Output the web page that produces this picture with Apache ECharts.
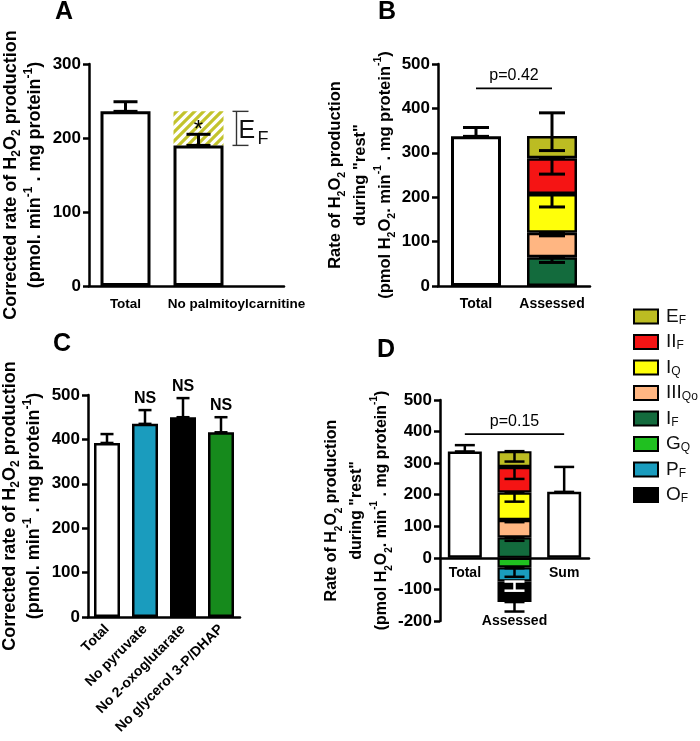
<!DOCTYPE html>
<html><head><meta charset="utf-8">
<script src="https://cdn.jsdelivr.net/npm/echarts@6/dist/echarts.min.js"></script>
<style>html,body{margin:0;padding:0;background:#fff}#c{width:700px;height:741px}</style>
</head><body><div id="c"></div>
<script>
// ---------------- data ----------------
// Panel A
const catsA = ['Total', 'No palmitoylcarnitine'];
const meanA = [236, 190];
const semA = [13, 15];
const efA = [null, 46];           // E_F component (hatched)
// Panel B / D shared "Assessed" components
const segNames = ['IF', 'IIIQo', 'IQ', 'IIF', 'EF', 'GQ', 'PF', 'OF'];
const segValues = [65, 55, 87, 81, 50, -30, -45, -65];
const legendOrder = ['EF', 'IIF', 'IQ', 'IIIQo', 'IF', 'GQ', 'PF', 'OF'];
const legendMain = ['E', 'II', 'I', 'III', 'I', 'G', 'P', 'O'];
const legendSub = ['F', 'F', 'Q', 'Qo', 'F', 'Q', 'F', 'F'];
// Panel B
const catsB = ['Total', 'Assessed'];
const totalB = [337, null];
const totalSemB = [20, null];
const errLowB = [53, 113, 178, 252, 305];
const errHighB = [65, 120, 207, 288, 390];
const pTextB = 'p=0.42';
const pLevelB = 445;
// Panel C
const catsC = ['Total', 'No pyruvate', 'No 2-oxoglutarate', 'No glycerol 3-P/DHAP'];
const meanC = [392, 435, 450, 416];
const semC = [20, 31, 43, 34];
const nsC = ['', 'NS', 'NS', 'NS'];
// Panel D
const catsD = ['Total', 'Assessed', 'Sum'];
const meanD = [337, null, 209];
const semD = [20, null, 79];
const errLowD = [54, 113, 178, 250, 305, null, -60, -104];
const errHighD = [65, 120, 207, 288, 338, null, -33, -75];
const ofOuterErrD = [-170, -140];
const pTextD = 'p=0.15';
const pLevelD = 392;

// ---------------- styles ----------------
const FF = '"Liberation Sans", Arial, sans-serif';
const segColors = {EF:'#bcbc22', IIF:'#f51414', IQ:'#ffff0a', IIIQo:'#ffb682', IF:'#136b3d', GQ:'#20c020', PF:'#1a9cbe', OF:'#000000'};
const colorsC = ['#ffffff', '#1a9cbe', '#000000', '#168a1c'];

function hatchPattern() {
  const cv = document.createElement('canvas');
  cv.width = 9; cv.height = 9;
  const g = cv.getContext('2d');
  g.fillStyle = '#fff'; g.fillRect(0, 0, 9, 9);
  g.strokeStyle = '#c3c32c'; g.lineWidth = 3.2;
  g.beginPath();
  g.moveTo(-2, 11); g.lineTo(11, -2);
  g.moveTo(-2, 2); g.lineTo(2, -2);
  g.moveTo(7, 11); g.lineTo(11, 7);
  g.stroke();
  return {image: cv, repeat: 'repeat'};
}

const axisLineStyle = {lineStyle: {color: '#000', width: 2.5}};
const tickStyle = {length: 6, lineStyle: {color: '#000', width: 2.5}};
const yLabel = {color: '#000', fontWeight: 'bold', fontSize: 17, fontFamily: FF, margin: 8};
const xLabel = {color: '#000', fontWeight: 'bold', fontSize: 14, fontFamily: FF, margin: 11, interval: 0};

function nameRich(fs, lh) {
  return {
    t: {fontSize: fs, fontWeight: 'bold', lineHeight: lh, color: '#000', fontFamily: FF},
    sb: {fontSize: fs - 6, fontWeight: 'bold', lineHeight: lh / 2 + 2, verticalAlign: 'bottom', color: '#000', fontFamily: FF},
    sp: {fontSize: fs - 6, fontWeight: 'bold', lineHeight: lh / 2 + 2, verticalAlign: 'top', color: '#000', fontFamily: FF}
  };
}
const nameAC = '{t|Corrected rate of H}{sb|2}{t|O}{sb|2}{t| production}\n{t|(pmol. min}{sp|-1}{t| . mg protein}{sp|-1}{t|)}';
const nameBD = '{t|Rate of H}{sb|2}{t|O}{sb|2}{t| production}\n{t|during "rest"}\n{t|(pmol H}{sb|2}{t|O}{sb|2}{t|. min}{sp|-1}{t| . mg protein}{sp|-1}{t|)}';

function yAxis(gi, min, max, name, gap, fs, lh, show) {
  return {
    type: 'value', gridIndex: gi, min, max, interval: 100, show: show !== false,
    axisLine: Object.assign({show: true}, axisLineStyle), axisTick: Object.assign({show: true}, tickStyle),
    axisLabel: yLabel, splitLine: {show: false},
    name: name || '', nameLocation: 'middle', nameGap: gap || 0,
    nameTextStyle: {rich: nameRich(fs || 15, lh || 24), align: 'center'}
  };
}

function errorSeries(xi, data, capW, lw, color, texts) {
  return {
    type: 'custom', xAxisIndex: xi, yAxisIndex: xi, z: 10, silent: true,
    encode: {x: 0, y: [1, 2]},
    data: data,
    renderItem: function (params, api) {
      const c = api.value(0);
      const lo = api.coord([c, api.value(1)]);
      const hi = api.coord([c, api.value(2)]);
      const x = lo[0];
      const st = {stroke: color, lineWidth: lw};
      const ch = [
        {type: 'line', shape: {x1: x, y1: lo[1], x2: x, y2: hi[1]}, style: st},
        {type: 'line', shape: {x1: x - capW / 2, y1: lo[1], x2: x + capW / 2, y2: lo[1]}, style: st},
        {type: 'line', shape: {x1: x - capW / 2, y1: hi[1], x2: x + capW / 2, y2: hi[1]}, style: st}
      ];
      if (texts && texts[params.dataIndex]) {
        ch.push({type: 'text', x: x, y: hi[1] - 4, style: {text: texts[params.dataIndex], textAlign: 'center', textVerticalAlign: 'bottom', font: 'bold 16px ' + FF, fill: '#000'}});
      }
      return {type: 'group', children: ch};
    }
  };
}

function pSeries(xi, from, to, level, text) {
  return {
    type: 'custom', xAxisIndex: xi, yAxisIndex: xi, z: 10, silent: true,
    data: [[from, to, level]],
    encode: {x: [0, 1], y: 2},
    renderItem: function (params, api) {
      const a = api.coord([api.value(0), api.value(2)]);
      const b = api.coord([api.value(1), api.value(2)]);
      return {type: 'group', children: [
        {type: 'line', shape: {x1: a[0], y1: a[1], x2: b[0], y2: b[1]}, style: {stroke: '#000', lineWidth: 1.6}},
        {type: 'text', x: (a[0] + b[0]) / 2, y: a[1] - 5, style: {text: text, textAlign: 'center', textVerticalAlign: 'bottom', font: '16px ' + FF, fill: '#000'}}
      ]};
    }
  };
}

// ---------------- series ----------------
const series = [];
// Panel A
series.push({name: 'A', type: 'bar', xAxisIndex: 0, yAxisIndex: 0, stack: 'a', barWidth: 50, z: 3,
  data: meanA, itemStyle: {color: '#fff', borderColor: '#000', borderWidth: 3}});
series.push({name: 'A-EF', type: 'bar', xAxisIndex: 0, yAxisIndex: 0, stack: 'a', barWidth: 50, z: 2,
  data: efA, itemStyle: {color: hatchPattern(), borderWidth: 0},
  label: {show: true, position: 'inside', formatter: '*', fontSize: 24, color: '#000', fontFamily: FF, offset: [0, 2]}});
series.push(errorSeries(0, meanA.map((m, i) => [i, m, m + semA[i]]), 24, 3, '#000'));
// E_F bracket
series.push({type: 'custom', xAxisIndex: 0, yAxisIndex: 0, z: 10, silent: true,
  data: [[1, meanA[1], meanA[1] + efA[1]]], encode: {x: 0, y: [1, 2]},
  renderItem: function (params, api) {
    const lo = api.coord([api.value(0), api.value(1)]);
    const hi = api.coord([api.value(0), api.value(2)]);
    const x = lo[0] + 38;
    const st = {stroke: '#333', lineWidth: 1.4};
    const mid = (lo[1] + hi[1]) / 2;
    return {type: 'group', children: [
      {type: 'line', shape: {x1: x, y1: lo[1], x2: x, y2: hi[1]}, style: st},
      {type: 'line', shape: {x1: x - 4, y1: lo[1], x2: x + 12, y2: lo[1]}, style: st},
      {type: 'line', shape: {x1: x - 4, y1: hi[1], x2: x + 12, y2: hi[1]}, style: st},
      {type: 'text', x: x + 2, y: mid + 3, style: {text: 'E', textAlign: 'left', textVerticalAlign: 'middle', font: '25px ' + FF, fill: '#111'}},
      {type: 'text', x: x + 21, y: mid + 11, style: {text: 'F', textAlign: 'left', textVerticalAlign: 'middle', font: '18px ' + FF, fill: '#111'}}
    ]};
  }});

// Panel B
series.push({name: 'B-total', type: 'bar', xAxisIndex: 2, yAxisIndex: 2, stack: 'b', barWidth: 50,
  data: totalB, itemStyle: {color: '#fff', borderColor: '#000', borderWidth: 3}});
segNames.slice(0, 5).forEach((n, i) => {
  series.push({name: n, type: 'bar', xAxisIndex: 2, yAxisIndex: 2, stack: 'b', barWidth: 50,
    data: [null, segValues[i]], itemStyle: {color: segColors[n], borderColor: '#000', borderWidth: 2.5}});
});
series.push(errorSeries(2, [[0, totalB[0], totalB[0] + totalSemB[0]]].concat(errLowB.map((l, i) => [1, l, errHighB[i]])), 26, 3, '#000'));
series.push(pSeries(2, 0, 1, pLevelB, pTextB));

// Panel C
series.push({name: 'C', type: 'bar', xAxisIndex: 3, yAxisIndex: 3, barWidth: 26,
  data: meanC.map((v, i) => ({value: v, itemStyle: {color: colorsC[i]}})),
  itemStyle: {borderColor: '#000', borderWidth: 2.5}});
series.push(errorSeries(3, meanC.map((m, i) => [i, m, m + semC[i]]), 13, 2.5, '#000', nsC));

// Panel D
series.push({name: 'D-main', type: 'bar', xAxisIndex: 4, yAxisIndex: 4, stack: 'd', barWidth: 34,
  data: meanD, itemStyle: {color: '#fff', borderColor: '#000', borderWidth: 2.5}});
segNames.forEach((n, i) => {
  series.push({name: n, type: 'bar', xAxisIndex: 4, yAxisIndex: 4, stack: 'd', barWidth: 34,
    data: [null, segValues[i], null], itemStyle: {color: segColors[n], borderColor: '#000', borderWidth: 2.2}});
});
const errDdark = [[0, meanD[0], meanD[0] + semD[0]], [2, meanD[2], meanD[2] + semD[2]], [1, ofOuterErrD[0], ofOuterErrD[1]]];
const errDwhite = [];
segNames.forEach((n, i) => {
  if (errLowD[i] === null) return;
  (n === 'OF' ? errDwhite : errDdark).push([1, errLowD[i], errHighD[i]]);
});
series.push(errorSeries(4, errDdark, 20, 2.5, '#000'));
series.push(errorSeries(4, errDwhite, 20, 2.5, '#fff'));
series.push(pSeries(4, 0, 2, pLevelD, pTextD));

// ---------------- option ----------------
const titleStyle = {fontSize: 25, fontWeight: 'bold', color: '#000', fontFamily: FF};
const option = {
  animation: false,
  backgroundColor: '#fff',
  title: [
    {text: 'A', left: 55, top: 0, padding: 0, textStyle: titleStyle},
    {text: 'B', left: 378, top: 0, padding: 0, textStyle: titleStyle},
    {text: 'C', left: 53, top: 332, padding: 0, textStyle: titleStyle},
    {text: 'D', left: 377, top: 338, padding: 0, textStyle: titleStyle}
  ],
  legend: {
    data: legendOrder, orient: 'vertical', left: 628, top: 302,
    itemWidth: 24, itemHeight: 14, itemGap: 6, icon: 'rect', selectedMode: false,
    itemStyle: {borderColor: '#000', borderWidth: 2},
    formatter: function (name) {
      const i = legendOrder.indexOf(name);
      return '{m|' + legendMain[i] + '}{s|' + legendSub[i] + '}';
    },
    textStyle: {rich: {
      m: {fontSize: 19, lineHeight: 20, color: '#111', fontFamily: FF, padding: [0, 0, 0, 3]},
      s: {fontSize: 12, lineHeight: 13, verticalAlign: 'bottom', color: '#111', fontFamily: FF}
    }}
  },
  grid: [
    {left: 89, top: 64, width: 146, height: 222},
    {left: 89, top: 64, width: 195, height: 222},
    {left: 438, top: 64, width: 152, height: 222},
    {left: 88, top: 395, width: 152, height: 222},
    {left: 440, top: 400, width: 149, height: 221}
  ],
  xAxis: [
    {type: 'category', gridIndex: 0, data: catsA, axisLine: {show: false}, axisTick: {show: false},
      axisLabel: Object.assign({}, xLabel, {fontSize: 13.5,
        formatter: (v, i) => i === 1 ? '{r|' + v + '}' : v,
        rich: {r: {padding: [0, 0, 0, 76], fontWeight: 'bold', fontSize: 13.5, color: '#000', fontFamily: FF}}})},
    {type: 'category', gridIndex: 1, data: [''], axisLine: axisLineStyle, axisTick: {show: false}, axisLabel: {show: false}},
    {type: 'category', gridIndex: 2, data: catsB, axisLine: axisLineStyle, axisTick: {show: false}, axisLabel: xLabel},
    {type: 'category', gridIndex: 3, data: catsC, axisLine: axisLineStyle,
      axisTick: Object.assign({alignWithLabel: true}, tickStyle),
      axisLabel: Object.assign({}, xLabel, {rotate: 45, fontSize: 14, margin: 10})},
    {type: 'category', gridIndex: 4, data: catsD, axisLine: Object.assign({onZero: true}, axisLineStyle),
      axisTick: Object.assign({alignWithLabel: true}, tickStyle),
      axisLabel: Object.assign({}, xLabel, {margin: -55,
        formatter: v => v === catsD[1] ? '{low|' + v + '}' : v,
        rich: {low: {padding: [48, 0, 0, 0], fontWeight: 'bold', fontSize: 14, color: '#000', fontFamily: FF}}})}
  ],
  yAxis: [
    yAxis(0, 0, 300, nameAC, 42, 18, 24),
    yAxis(1, 0, 300, '', 0, 15, 24, false),
    yAxis(2, 0, 500, nameBD, 35, 16.5, 25),
    yAxis(3, 0, 500, nameAC, 42, 18, 24),
    yAxis(4, -200, 500, nameBD, 37, 16, 25)
  ],
  series: series
};
const chart = echarts.init(document.getElementById('c'), null, {renderer: 'canvas'});
chart.setOption(option);
</script>
</body></html>
